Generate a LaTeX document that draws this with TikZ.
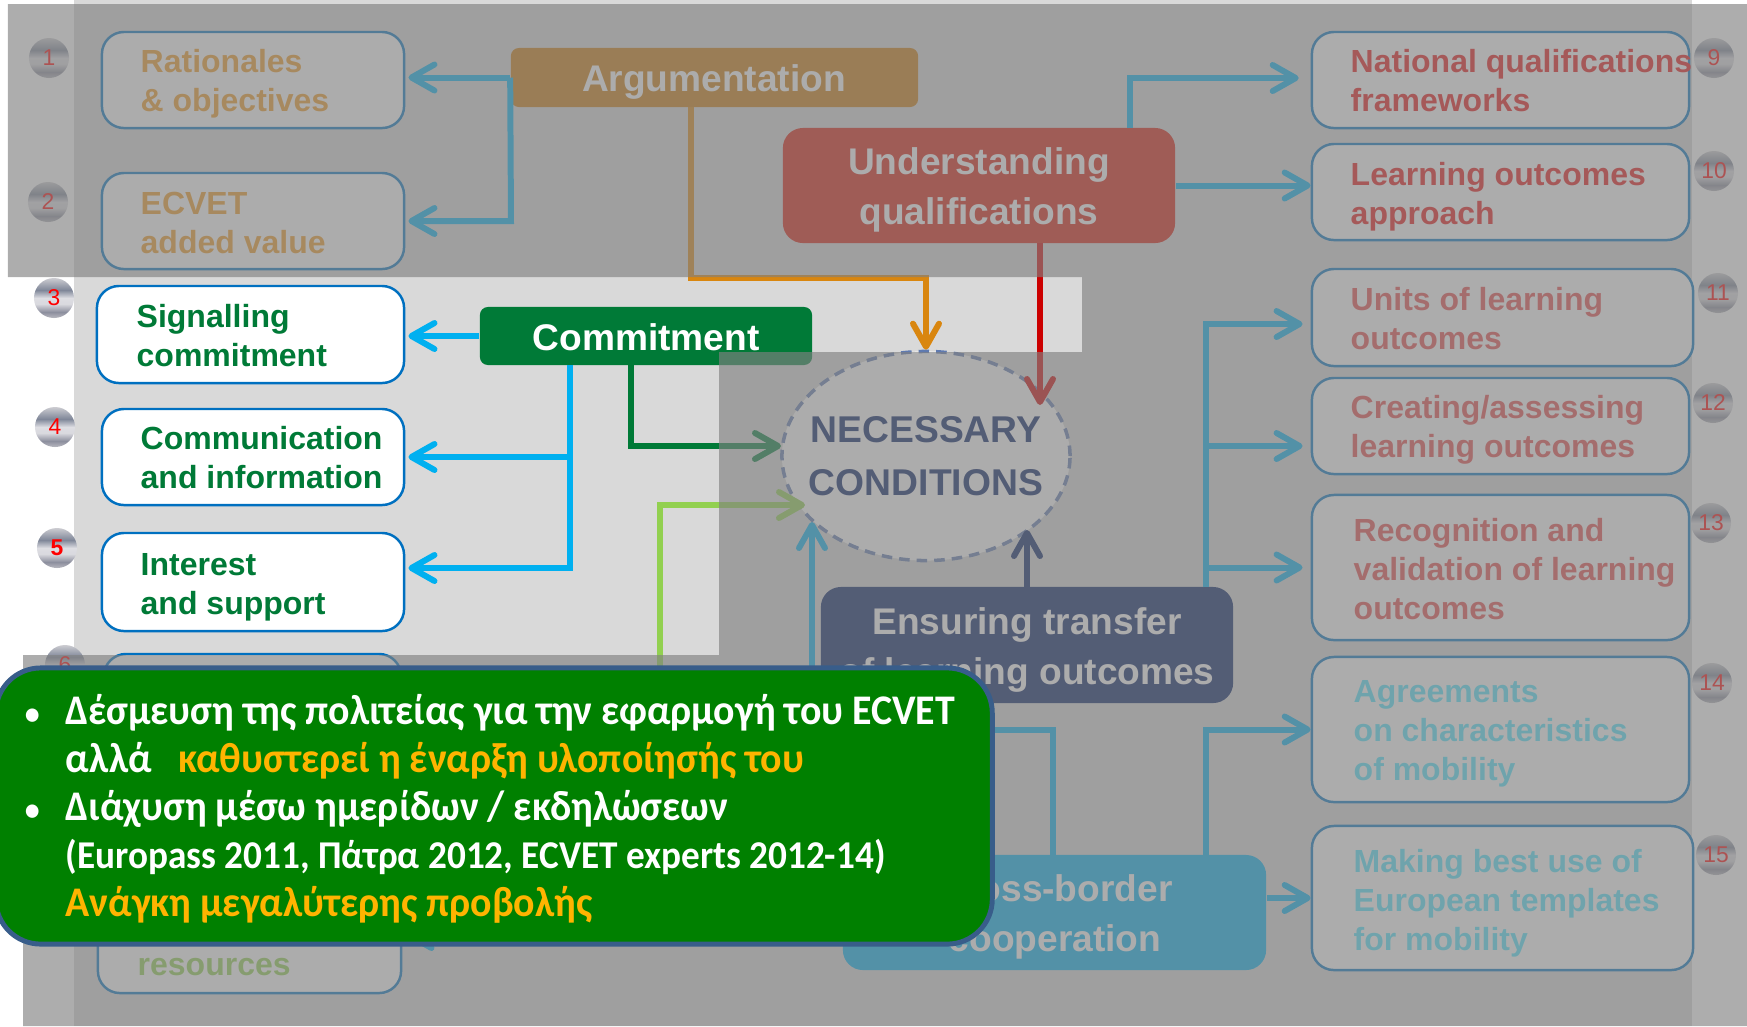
\documentclass[tikz,border=0pt]{standalone}
\usepackage{fontspec}
\setmainfont{Liberation Sans}
\newfontfamily\calloutfont[FakeStretch=.945]{Carlito}
\usepackage{tikz}
\usetikzlibrary{arrows.meta, shapes.geometric}

\definecolor{panelgrey}{HTML}{D9D9D9}
\definecolor{shadegrey}{HTML}{818181}
\definecolor{linkblue}{HTML}{00B0F0}
\definecolor{boxblue}{HTML}{0070C0}
\definecolor{arguorange}{HTML}{CB7806}
\definecolor{linkorange}{HTML}{D9860F}
\definecolor{underred}{HTML}{D91708}
\definecolor{linkred}{HTML}{CC0000}
\definecolor{ensurenavy}{HTML}{001A61}
\definecolor{ellipseline}{HTML}{5F7AB0}
\definecolor{commitgreen}{HTML}{007A37}
\definecolor{limegreen}{HTML}{92D050}
\definecolor{calloutgreen}{HTML}{008000}
\definecolor{calloutline}{HTML}{385D8A}
\definecolor{calloutorange}{HTML}{FFB400}
\definecolor{tantext}{HTML}{F09A22}
\definecolor{redtext}{HTML}{EA1111}
\definecolor{fadetext}{HTML}{E74A4A}
\definecolor{bluetext}{HTML}{50E5FF}

\pgfdeclareverticalshading{bubblemetal}{100bp}{rgb(0bp)=(.72,.72,.75); rgb(25bp)=(.72,.72,.75); rgb(32.5bp)=(.55,.56,.62); rgb(42.5bp)=(.85,.85,.87); rgb(50bp)=(.87,.87,.89); rgb(60bp)=(.5,.53,.6); rgb(75bp)=(.8,.8,.82); rgb(100bp)=(.8,.8,.82)}

\tikzset{
    itembox/.style={draw=boxblue, fill=white, line width=.7pt, rounded corners=.22cm, inner sep=0pt},
    itemtext/.style={anchor=west, align=left, inner sep=0pt, font=\fontsize{9.1}{11.1}\selectfont\bfseries},
    hubbox/.style={text=white, align=center, inner sep=0pt, rounded corners=.2cm, font=\fontsize{10.55}{14.4}\selectfont\bfseries},
    bubble/.style={circle, shading=bubblemetal, minimum size=.4cm, inner sep=0pt, text=red, font=\fontsize{6.5}{7}\selectfont},
    linkarrow/.style={line width=1.7pt, -{Straight Barb[length=2.3mm,width=2.6mm,round]}},
    bluelink/.style={linkarrow, draw=linkblue}
}
\newcommand{\bulletmark}{\llap{{\fontsize{9}{9}\selectfont\textbullet}\hspace{7.4pt}}}

\begin{document}
\begin{tikzpicture}[x=.01cm, y=-.01cm]
    \useasboundingbox (0,0) rectangle (1747,1026);
    \fill[panelgrey] (74,0) rectangle (1692,1026);

    \foreach \n/\x/\y in {1/49/58, 2/48/202, 3/54/298, 4/55/427, 6/65/665, 9/1714/58, 10/1714/171, 11/1718/293, 12/1713/403, 13/1711/523, 14/1712/683, 15/1716/855}
        \node[bubble] (bubble\n) at (\x,\y) {\n};
    \node[bubble, font=\fontsize{6.5}{7}\selectfont\bfseries] (bubble5) at (57,548) {5};

    \node[itembox, minimum width=3.02cm, minimum height=.96cm] (ratio) at (253,80) {};
    \node[itembox, minimum width=3.02cm, minimum height=.96cm] (ecvet) at (253,221) {};
    \node[itembox, minimum width=3.07cm, minimum height=.97cm] (signal) at (250.5,334.5) {};
    \node[itembox, minimum width=3.02cm, minimum height=.96cm] (commun) at (253,457) {};
    \node[itembox, minimum width=3.02cm, minimum height=.98cm] (intere) at (253,582) {};
    \node[itembox, minimum width=2.97cm, minimum height=1cm] (sixth) at (252.5,704) {};
    \node[itembox, minimum width=3.03cm, minimum height=1.45cm] (resour) at (249.5,920.5) {};
    \node[itembox, minimum width=3.77cm, minimum height=.96cm] (nqf) at (1500.5,80) {};
    \node[itembox, minimum width=3.77cm, minimum height=.96cm] (loappr) at (1500.5,192) {};
    \node[itembox, minimum width=3.81cm, minimum height=.97cm] (units) at (1502.5,317.5) {};
    \node[itembox, minimum width=3.77cm, minimum height=.96cm] (creat) at (1500.5,426) {};
    \node[itembox, minimum width=3.77cm, minimum height=1.45cm] (recog) at (1500.5,567.5) {};
    \node[itembox, minimum width=3.77cm, minimum height=1.45cm] (agree) at (1500.5,729.5) {};
    \node[itembox, minimum width=3.81cm, minimum height=1.44cm] (making) at (1502.5,898) {};

    \node[itemtext, text=tantext] (ratiotext) at (140,84) {Rationales\\\& objectives};
    \node[itemtext, text=tantext] (ecvettext) at (140,223) {ECVET\\added value};
    \node[itemtext, text=commitgreen] (signaltext) at (136,336) {Signalling\\commitment};
    \node[itemtext, text=commitgreen] (communtext) at (140,458) {Communication\\and information};
    \node[itemtext, text=commitgreen] (interetext) at (140,587) {Interest\\and support};
    \node[itemtext, text=limegreen] (resourtext) at (137,967) {resources};
    \node[itemtext, text=redtext] (nqftext) at (1350,81) {National qualifications\\frameworks};
    \node[itemtext, text=redtext] (loapprtext) at (1350,197) {Learning outcomes\\approach};
    \node[itemtext, text=fadetext] (unitstext) at (1350,319) {Units of learning\\outcomes};
    \node[itemtext, text=fadetext] (creattext) at (1350,430) {Creating/assessing\\learning outcomes};
    \node[itemtext, text=fadetext] (recogtext) at (1353,569) {Recognition and\\validation of learning\\outcomes};
    \node[itemtext, text=bluetext] (agreetext) at (1353,734) {Agreements\\on characteristics\\of mobility};
    \node[itemtext, text=bluetext] (makingtext) at (1353,903) {Making best use of\\European templates\\for mobility};

    \node[hubbox, fill=arguorange, rounded corners=.08cm, minimum width=4.07cm, minimum height=.59cm] (argu) at (714.5,77.5) {};
    \node[hubbox, fill=underred, minimum width=3.92cm, minimum height=1.15cm] (under) at (979,185.5) {};
    \node[hubbox, fill=commitgreen, rounded corners=.08cm, minimum width=3.32cm, minimum height=.58cm] (commit) at (646,336) {};
    \node[hubbox, fill=ensurenavy, minimum width=4.12cm, minimum height=1.16cm] (ensure) at (1027,645) {};
    \node[hubbox, fill=linkblue, minimum width=4.23cm, minimum height=1.15cm] (cross) at (1054.5,912.5) {};
    \node[hubbox, rounded corners=0pt] (argutext) at (714,82) {Argumentation};
    \node[hubbox, rounded corners=0pt] (undertext) at (979,190) {Understanding\\qualifications};
    \node[hubbox, rounded corners=0pt] (committext) at (646,337) {Commitment};
    \node[hubbox, rounded corners=0pt] (ensuretext) at (1027,650) {Ensuring transfer\\of learning outcomes};
    \node[hubbox, rounded corners=0pt] (crosstext) at (1055,917) {Cross-border\\cooperation};
    \node[ellipse, draw=ellipseline, fill=white, line width=1pt, dash pattern=on 3pt off 2pt, minimum width=2.88cm, minimum height=2.09cm, inner sep=0pt] (necess) at (926,456) {};
    \node[align=center, inner sep=0pt, text=ensurenavy, font=\fontsize{10.6}{15}\selectfont\bfseries] (necesstext) at (926,456) {NECESSARY\\CONDITIONS};

    \coordinate (ecvetknee) at (511,221);
    \coordinate (orangedrop) at (691,107);
    \coordinate (orangeknee) at (691,278);
    \coordinate (redstart) at (1040,243);
    \coordinate (redtip) at (1040,405);
    \coordinate (nqfdrop) at (1130,128);
    \coordinate (nqfknee) at (1130,78);
    \coordinate (rightbus) at (1206,587);
    \coordinate (unitsknee) at (1206,324);
    \coordinate (creatknee) at (1206,446);
    \coordinate (ensuredrop) at (1027,587);
    \coordinate (ensuretip) at (1027,530);
    \coordinate (crossbus) at (1206,855);
    \coordinate (leftdrop) at (1053,855);
    \coordinate (leftknee) at (1053,730);
    \coordinate (leftcorner) at (812,730);
    \coordinate (lefttip) at (812,522);
    \coordinate (bluedrop) at (570,365);
    \coordinate (blueknee) at (570,568);
    \coordinate (greendrop) at (631,365);
    \coordinate (greentip) at (781,446);
    \coordinate (limestart) at (660,800);
    \coordinate (limetip) at (805,505);
    \coordinate (resstart) at (470,935);

    \draw[bluelink, shorten >=.9pt] (argu.west) -- (argu.west -| ratio.east);
    \draw[bluelink, shorten >=.9pt] (argu.west) -- (ecvetknee) -- (ecvet.east);
    \draw[linkarrow, draw=linkorange] (orangedrop) -- (orangeknee) -| (necess.north);
    \draw[linkarrow, draw=linkred] (redstart) -- (redtip);
    \draw[bluelink, shorten >=3.4pt] (nqfdrop) -- (nqfknee) -- (nqfknee -| nqf.west);
    \draw[bluelink] (under.east) -- (under.east -| loappr.west);
    \draw[bluelink, shorten >=2.3pt] (rightbus) -- (unitsknee) -- (unitsknee -| units.west);
    \draw[bluelink, shorten >=2.3pt] (rightbus) -- (creatknee) -- (creatknee -| creat.west);
    \draw[bluelink, shorten >=2.3pt] (rightbus) -- (rightbus |- recog.west) -- (recog.west);
    \draw[bluelink] (crossbus) -- (crossbus |- agree.west) -- (agree.west);
    \draw[bluelink] (making.west -| cross.east) -- (making.west);
    \draw[linkarrow, draw=ensurenavy] (ensuredrop) -- (ensuretip);
    \draw[bluelink] (leftdrop) -- (leftknee) -- (leftcorner) -- (lefttip);
    \draw[bluelink, shorten >=.9pt] (commit.west) -- (commit.west -| signal.east);
    \draw[bluelink, shorten >=.9pt] (bluedrop) -- (bluedrop |- commun.east) -- (commun.east);
    \draw[bluelink, shorten >=.9pt] (bluedrop) -- (blueknee) -- (blueknee -| intere.east);
    \draw[linkarrow, draw=commitgreen] (greendrop) |- (greentip);
    \draw[linkarrow, draw=limegreen] (limestart) |- (limetip);
    \draw[bluelink, shorten >=.9pt] (resstart) -- (resstart -| resour.east);

    \fill[shadegrey, fill opacity=.65] (8,4) -- (1747,4) -- (1747,1026) -- (23,1026) -- (23,655) -- (719,655) -- (719,352) -- (1082,352) -- (1082,277) -- (8,277) -- cycle;

    \node[draw=calloutline, fill=calloutgreen, line width=1.4pt, rounded corners=.45cm, minimum width=9.96cm, minimum height=2.76cm, inner sep=0pt] (callout) at (494,806) {};
    \node[anchor=west, align=left, inner sep=0pt, text=white, font=\calloutfont\fontsize{12}{13.65}\selectfont\bfseries] (callouttext) at (65,809) {\bulletmark Δέσμευση της πολιτείας για την εφαρμογή του ECVET\\
        αλλά\hspace{7.5pt}\textcolor{calloutorange}{καθυστερεί η έναρξη υλοποίησής του}\\
        \bulletmark Διάχυση μέσω ημερίδων / εκδηλώσεων\\
        {\fontsize{11.2}{13.65}\selectfont (Europass 2011, Πάτρα 2012, ECVET experts 2012-14)}\\
        \textcolor{calloutorange}{Ανάγκη μεγαλύτερης προβολής}};
\end{tikzpicture}
\end{document}
